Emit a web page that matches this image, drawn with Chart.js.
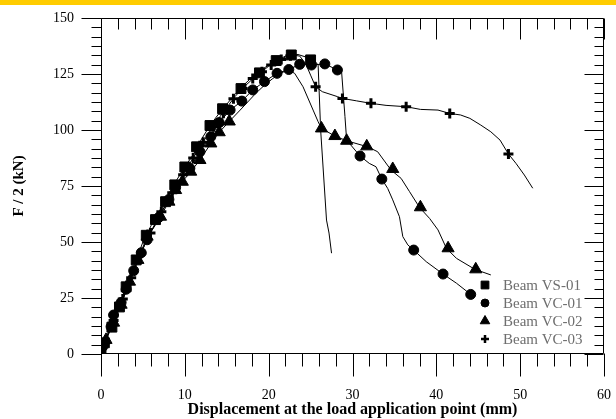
<!DOCTYPE html>
<html>
<head>
<meta charset="utf-8">
<script src="https://cdn.jsdelivr.net/npm/chart.js@4.4.1/dist/chart.umd.min.js"></script>
<style>
  html, body { margin: 0; padding: 0; background: #fff; }
  #wrap { position: relative; width: 616px; height: 419px; }
</style>
</head>
<body>
<div id="wrap"><canvas id="chart" width="616" height="419"></canvas></div>
<script>
// Load / displacement curves of four beams

const xTickLabels = [0, 10, 20, 30, 40, 50, 60];
const yTickLabels = [0, 25, 50, 75, 100, 125, 150];
const seriesNames = ['Beam VS-01', 'Beam VC-01', 'Beam VC-02', 'Beam VC-03'];

// Beam VS-01 (squares)
const vs01X = [0, 0.3, 1, 2, 3, 4, 5, 6, 7, 8, 9, 10, 11, 12, 13, 14, 15, 16, 17, 18, 19, 20, 21, 22, 23, 23.5, 24.5, 25.5, 25.9, 26.2, 26.9, 27.2, 27.5];
const vs01Y = [0, 4, 11, 20, 30, 40, 50, 57.5, 64, 71, 77.5, 83.5, 89, 96, 102, 107, 111.5, 116, 120, 123.5, 126.5, 129, 131, 133, 133.5, 133.7, 132.5, 130.8, 129, 100, 59.8, 54, 45];
const vs01MarkX = [0, 0.4, 1.3, 2.2, 3, 4.2, 5.4, 6.5, 7.7, 8.8, 10, 11.4, 13, 14.5, 16.7, 18.9, 20.9, 22.7, 25];
const vs01MarkY = [0, 5, 12, 21, 30, 42, 53, 60, 68, 75.5, 83.5, 92.5, 102, 109.5, 118.5, 125.5, 131, 133.5, 131.3];

// Beam VC-01 (circles)
const vc01X = [0, 0.2, 1.2, 1.5, 2.4, 3, 3.9, 4.8, 5.5, 6.9, 8.1, 8.9, 10.6, 11.8, 13.1, 14.1, 15.4, 16.8, 18.1, 19.5, 21, 22.4, 23.7, 25.1, 26.7, 28.2, 28.7, 29.1, 29.3, 30.9, 32, 32.8, 33.5, 34.2, 34.8, 35.6, 36, 36.6, 37.3, 38.8, 40.8, 42.4, 44.1, 44.6];
const vc01Y = [0, 3.3, 12.2, 17.4, 23, 28.9, 37.2, 45.2, 51, 61, 69, 74.4, 82.9, 90.3, 97, 103.3, 108.9, 112.9, 117.9, 121.6, 125.3, 127, 129.3, 129, 129.5, 126.8, 126, 106, 95.5, 88.4, 85.1, 83.6, 78.1, 73.9, 68.8, 61.3, 52.4, 48.7, 46.4, 41.2, 35.7, 31.6, 26.6, 25.5];
const vc01MarkX = [0.2, 1.2, 1.5, 2.4, 3, 3.9, 4.8, 5.5, 6.9, 8.1, 8.9, 10.6, 11.8, 13.1, 14.1, 15.4, 16.8, 18.1, 19.5, 21, 22.4, 23.7, 25.1, 26.7, 28.2, 30.9, 33.5, 37.3, 40.8, 44.1];
const vc01MarkY = [3.3, 12.2, 17.4, 23, 28.9, 37.2, 45.2, 51, 61, 69, 74.4, 82.9, 90.3, 97, 103.3, 108.9, 112.9, 117.9, 121.6, 125.3, 127, 129.3, 129, 129.5, 126.8, 88.4, 78.1, 46.4, 35.7, 26.6];

// Beam VC-02 (triangles)
const vc02X = [0, 0.6, 1.5, 2.4, 3.4, 4.4, 5.5, 6.3, 7.1, 8.1, 8.9, 9.7, 10.7, 11.8, 13.1, 14.1, 15.3, 16.5, 17.5, 18.5, 19.5, 20.5, 21.4, 22.3, 23.1, 24.1, 25.3, 25.9, 26.3, 27.9, 29.3, 31.8, 33, 34.6, 35.8, 36.8, 38, 39.2, 40.2, 41.2, 42.4, 44.6, 46.5];
const vc02Y = [0, 6.3, 14, 22, 32.3, 42, 52.4, 56.5, 61.3, 68, 73.2, 76.9, 81.4, 86.6, 94, 99, 103.8, 108.5, 112.5, 116.5, 120, 123, 125.3, 126.8, 125.3, 119.3, 108.9, 103.7, 100.7, 97.3, 95.2, 92.5, 90.3, 82.1, 78.4, 72.5, 65.4, 60.5, 55.4, 47.2, 42.7, 37.8, 35.3];
const vc02MarkX = [0.6, 1.5, 2.4, 3.4, 4.4, 5.5, 7.1, 8.1, 8.9, 9.7, 10.7, 11.8, 13.1, 14.1, 15.3, 26.3, 27.9, 29.3, 31.7, 34.8, 38.1, 41.4, 44.7];
const vc02MarkY = [6.3, 14, 22, 32.3, 42, 52.4, 61.3, 68, 73.2, 76.9, 81.4, 86.6, 94, 99, 103.8, 100.7, 97.3, 95.2, 92.7, 82.6, 65.5, 47.2, 37.8];

// Beam VC-03 (crosses)
const vc03X = [0, 0.4, 1, 2, 3, 4, 5, 6, 7, 8, 9, 10, 11, 12, 13, 14, 15, 16, 17, 18, 19, 20, 21, 22, 22.8, 23.7, 24.4, 25, 25.6, 26.4, 28.2, 28.8, 30.5, 32.2, 34, 36.4, 38.1, 40.2, 41.6, 42.9, 44, 45.3, 46.5, 47.6, 48.6, 49.5, 50.5, 51.5];
const vc03Y = [0, 4, 10, 19, 28, 38, 47, 55, 62, 68.5, 75, 81.5, 87.5, 93.5, 99.5, 105, 110, 115, 119, 122.5, 125.5, 128.5, 131, 132.5, 133.5, 133, 129.7, 124.5, 119.3, 117.1, 114.9, 114.1, 113, 111.9, 111, 110.4, 109.2, 108.9, 107.4, 106.7, 105.2, 102.2, 99.2, 95.5, 89.3, 85.1, 79.9, 74];
const vc03MarkX = [0.5, 1.5, 2.6, 3.6, 4.8, 5.9, 7.2, 8.5, 9.8, 11, 12.2, 13.4, 14.6, 15.8, 16.9, 18.1, 19.2, 20.3, 21.5, 22.6, 25.6, 28.8, 32.2, 36.4, 41.6, 48.6];
const vc03MarkY = [5, 15, 24.5, 34, 45, 54, 63.5, 72, 80, 87.5, 94.5, 101.5, 107.5, 114, 118.5, 123, 126, 129, 131.5, 133.2, 119.3, 114.1, 111.9, 110.4, 107.4, 89.3];

const pts = (xs, ys) => xs.map((x, i) => ({ x: x, y: ys[i] }));

const markerStyles = [
    { pointStyle: 'rect', radius: 7, legendRadius: 5.5, width: 1 },
    { pointStyle: 'circle', radius: 5, legendRadius: 4, width: 1 },
    { pointStyle: 'triangle', radius: 7, legendRadius: 5.5, width: 1 },
    { pointStyle: 'cross', radius: 5, legendRadius: 4, width: 3 }
];

const lines = [pts(vs01X, vs01Y), pts(vc01X, vc01Y), pts(vc02X, vc02Y), pts(vc03X, vc03Y)];
const marks = [pts(vs01MarkX, vs01MarkY), pts(vc01MarkX, vc01MarkY), pts(vc02MarkX, vc02MarkY), pts(vc03MarkX, vc03MarkY)];

const datasets = [];
lines.forEach((data, i) => {
    datasets.push({
        label: seriesNames[i] + ' line',
        data: data,
        showLine: true,
        borderColor: '#000',
        borderWidth: 1,
        pointRadius: 0,
        fill: false
    });
});
marks.forEach((data, i) => {
    const m = markerStyles[i];
    datasets.push({
        label: seriesNames[i],
        data: data,
        showLine: false,
        pointStyle: m.pointStyle,
        pointRadius: m.radius,
        pointBorderWidth: m.width,
        pointBackgroundColor: '#000',
        pointBorderColor: '#000'
    });
});

const serif = "'Liberation Serif', 'Times New Roman', serif";

// keep the label padding from eating into the plot area
const noScalePadding = (s) => {
    s.paddingLeft = 0; s.paddingRight = 0;
    s.paddingTop = 0; s.paddingBottom = 0;
};

function drawFrame(chart) {
    const { ctx, chartArea: a } = chart;
    const xs = chart.scales.x, ys = chart.scales.y;
    const L = Math.round(a.left) + 0.5, R = Math.round(a.right) - 0.5;
    const T = Math.round(a.top) + 0.5, B = Math.round(a.bottom) - 0.5;
    ctx.save();
    ctx.strokeStyle = '#000';
    ctx.lineWidth = 1;
    ctx.beginPath();
    ctx.moveTo(L, T); ctx.lineTo(R, T); ctx.lineTo(R, B); ctx.lineTo(L, B); ctx.lineTo(L, T);
    // x: minor every 2 mm, major every 10 mm
    for (let i = 0; i <= 30; i++) {
        const px = Math.round(xs.getPixelForValue(i * 2)) + 0.5;
        const major = i % 5 === 0;
        ctx.moveTo(px, B); ctx.lineTo(px, B + (major ? 23 : 13));
        ctx.moveTo(px, T); ctx.lineTo(px, T + (major ? 21 : 11));
    }
    // y: five minor ticks between majors
    for (let i = 0; i <= 36; i++) {
        const py = Math.round(ys.getPixelForValue(i * 25 / 6)) + 0.5;
        const major = i % 6 === 0;
        ctx.moveTo(L, py); ctx.lineTo(L - (major ? 20 : 10), py);
        ctx.moveTo(R, py); ctx.lineTo(R - (major ? 19 : 9), py);
    }
    ctx.stroke();
    ctx.restore();
}

function drawLegend(chart) {
    const { ctx, chartArea: a } = chart;
    ctx.save();
    ctx.font = '15px ' + serif;
    ctx.textBaseline = 'middle';
    seriesNames.forEach((name, i) => {
        const yy = a.bottom - 69 + i * 18;
        const xx = a.right - 119;
        const m = markerStyles[i];
        ctx.fillStyle = '#000';
        ctx.strokeStyle = '#000';
        ctx.lineWidth = m.pointStyle === 'cross' ? 2.5 : 1;
        Chart.helpers.drawPoint(ctx, {
            pointStyle: m.pointStyle,
            radius: m.legendRadius,
            borderWidth: m.pointStyle === 'cross' ? 2.5 : 1,
            rotation: 0
        }, xx, yy);
        ctx.fillStyle = '#6e6e6e';
        ctx.fillText(name, xx + 18, yy + 1);
    });
    ctx.restore();
}

const decorations = {
    id: 'decorations',
    beforeDraw(chart) {
        const ctx = chart.ctx;
        ctx.save();
        ctx.fillStyle = '#FFCC00';
        ctx.fillRect(0, 0, chart.width, 5);
        ctx.restore();
    },
    afterDraw(chart) {
        drawFrame(chart);
        drawLegend(chart);
    }
};

new Chart(document.getElementById('chart'), {
    type: 'scatter',
    data: { datasets: datasets },
    plugins: [decorations],
    options: {
        responsive: false,
        animation: false,
        devicePixelRatio: 1,
        layout: { padding: { left: 0, right: 12, top: 18, bottom: 0 } },
        plugins: {
            legend: { display: false },
            tooltip: { enabled: false }
        },
        scales: {
            x: {
                type: 'linear',
                min: 0,
                max: 60,
                afterFit: (s) => { s.height = 65; noScalePadding(s); },
                afterBuildTicks: (s) => { s.ticks = xTickLabels.map(v => ({ value: v })); },
                grid: { display: false, drawTicks: false },
                border: { display: false },
                ticks: { color: '#000', padding: 33, font: { family: serif, size: 14 } },
                title: {
                    display: true,
                    text: 'Displacement at the load application point (mm)',
                    color: '#000',
                    padding: { top: 0, bottom: 0 },
                    font: { family: serif, size: 16, weight: 'bold' }
                }
            },
            y: {
                type: 'linear',
                min: 0,
                max: 150,
                afterFit: (s) => { s.width = 101; noScalePadding(s); },
                afterBuildTicks: (s) => { s.ticks = yTickLabels.map(v => ({ value: v })); },
                grid: { display: false, drawTicks: false },
                border: { display: false },
                ticks: { color: '#000', padding: 27, font: { family: serif, size: 14 } },
                title: {
                    display: true,
                    text: 'F / 2 (kN)',
                    color: '#000',
                    padding: { top: 10, bottom: 0 },
                    font: { family: serif, size: 15, weight: 'bold' }
                }
            }
        }
    }
});
</script>
</body>
</html>
